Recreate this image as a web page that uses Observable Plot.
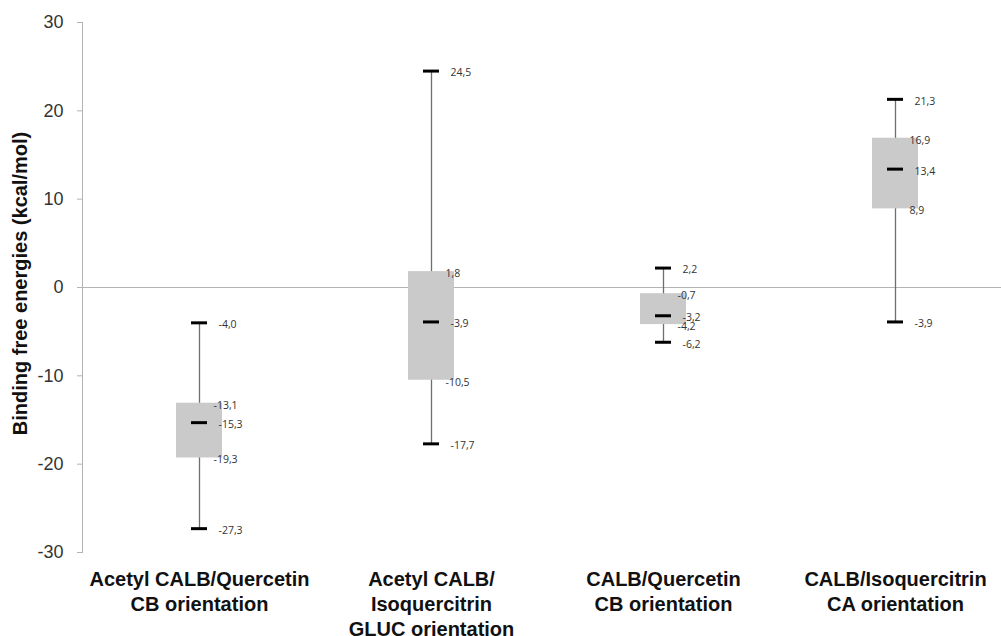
<!DOCTYPE html>
<html>
<head>
<meta charset="utf-8">
<script src="https://cdn.jsdelivr.net/npm/d3@7"></script>
<script src="https://cdn.jsdelivr.net/npm/@observablehq/plot@0.6"></script>
<style>
  html, body { margin: 0; padding: 0; background: #fff; }
  #chart svg { display: block; }
</style>
</head>
<body>
<div id="chart"></div>
<script>
const categories = [
  "Acetyl CALB/Quercetin\nCB orientation",
  "Acetyl CALB/\nIsoquercitrin\nGLUC orientation",
  "CALB/Quercetin\nCB orientation",
  "CALB/Isoquercitrin\nCA orientation"
];
const minValues    = [-27.3, -17.7, -6.2, -3.9];
const q1Values     = [-19.3, -10.5, -4.2,  8.9];
const medianValues = [-15.3,  -3.9, -3.2, 13.4];
const q3Values     = [-13.1,   1.8, -0.7, 16.9];
const maxValues    = [ -4.0,  24.5,  2.2, 21.3];
const yTicks = [-30, -20, -10, 0, 10, 20, 30];
const yLabel = "Binding free energies (kcal/mol)";

const boxes = categories.map((c, i) => ({
  cat: c, min: minValues[i], q1: q1Values[i], med: medianValues[i], q3: q3Values[i], max: maxValues[i]
}));
const fmt = v => v.toFixed(1).replace(".", ",");
const outerLabels = boxes.flatMap(b => [b.min, b.med, b.max].map(v => ({cat: b.cat, v})));
const boxLabels = boxes.flatMap(b => [b.q1, b.q3].map(v => ({cat: b.cat, v})));

const chart = Plot.plot({
  width: 1001,
  height: 636,
  marginTop: 22,
  marginBottom: 84,
  marginLeft: 82,
  marginRight: 0,
  style: { fontFamily: "'Liberation Sans', Arial, sans-serif", background: "#fff" },
  x: { type: "band", domain: categories, range: [83, 1011], padding: 0 },
  y: { domain: [-30, 30] },
  marks: [
    Plot.ruleY([0], { stroke: "#b4b4b4", strokeWidth: 1 }),
    Plot.frame({ anchor: "left", stroke: "#b4b4b4" }),
    Plot.axisY({
      ticks: yTicks, tickSize: 5, tickPadding: 14, fontSize: 18,
      stroke: "#b4b4b4", fill: "#333", label: null, tickFormat: d => String(d)
    }),
    Plot.axisX({
      tickSize: 0, tickPadding: 16, fontSize: 20, fontWeight: "bold",
      lineHeight: 1.25, fill: "#111", label: null
    }),
    Plot.text([yLabel], {
      frameAnchor: "left", textAnchor: "middle", dx: -62, dy: -4, rotate: -90,
      fontSize: 20, fontWeight: "bold", fill: "#111"
    }),
    // whiskers
    Plot.ruleX(boxes, { x: "cat", y1: "min", y2: "max", stroke: "#6e6e6e", strokeWidth: 1.3 }),
    // boxes
    Plot.barY(boxes, { x: "cat", y1: "q1", y2: "q3", fill: "#cacaca", insetLeft: 93, insetRight: 93 }),
    // caps and median
    Plot.tickY(boxes, { x: "cat", y: "min", stroke: "#000", strokeWidth: 3, inset: 108 }),
    Plot.tickY(boxes, { x: "cat", y: "max", stroke: "#000", strokeWidth: 3, inset: 108 }),
    Plot.tickY(boxes, { x: "cat", y: "med", stroke: "#000", strokeWidth: 3, inset: 108 }),
    // value labels
    Plot.text(outerLabels, {
      x: "cat", y: "v", text: d => fmt(d.v), dx: 19, dy: 2, textAnchor: "start",
      fontSize: 10.5, fontFamily: "'Open Sans', sans-serif", fill: "#333"
    }),
    Plot.text(boxLabels, {
      x: "cat", y: "v", text: d => fmt(d.v), dx: 14, dy: 2, textAnchor: "start",
      fontSize: 10.5, fontFamily: "'Open Sans', sans-serif", fill: "#333"
    })
  ]
});
document.getElementById("chart").appendChild(chart);
</script>
</body>
</html>
